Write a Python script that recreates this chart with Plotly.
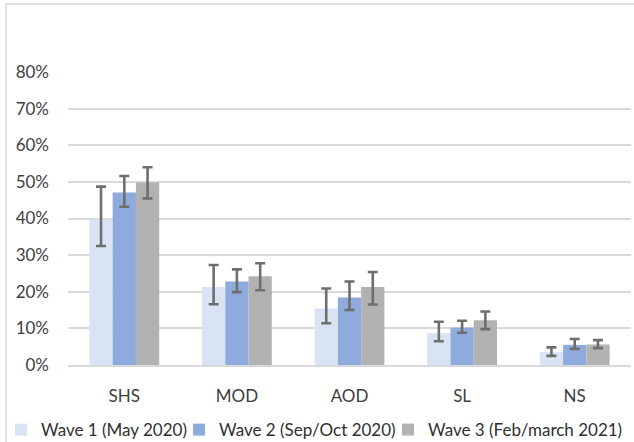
import plotly.graph_objects as go

categories = ["SHS", "MOD", "AOD", "SL", "NS"]
series_names = ["Wave 1 (May 2020)", "Wave 2 (Sep/Oct 2020)", "Wave 3 (Feb/march 2021)"]
colors = ["#dae3f3", "#8faadc", "#b2b2b2"]

wave1 = [0.398, 0.213, 0.154, 0.087, 0.035]
wave1_hi = [0.487, 0.273, 0.209, 0.118, 0.048]
wave1_lo = [0.325, 0.166, 0.114, 0.065, 0.025]

wave2 = [0.471, 0.228, 0.184, 0.102, 0.055]
wave2_hi = [0.516, 0.261, 0.228, 0.121, 0.071]
wave2_lo = [0.432, 0.199, 0.150, 0.088, 0.044]

wave3 = [0.498, 0.242, 0.213, 0.122, 0.056]
wave3_hi = [0.540, 0.278, 0.254, 0.146, 0.068]
wave3_lo = [0.455, 0.204, 0.165, 0.098, 0.046]

values = [wave1, wave2, wave3]
highs = [wave1_hi, wave2_hi, wave3_hi]
lows = [wave1_lo, wave2_lo, wave3_lo]
legend_ids = ["legend", "legend2", "legend3"]

fig = go.Figure()
for name, col, v, hi, lo, lg in zip(series_names, colors, values, highs, lows, legend_ids):
    fig.add_trace(go.Bar(
        x=categories, y=v, name=name, legend=lg,
        marker=dict(color=col, line=dict(width=0)),
        error_y=dict(type="data", symmetric=False,
                     array=[h - a for h, a in zip(hi, v)],
                     arrayminus=[a - l for a, l in zip(v, lo)],
                     color="#6e6e6e", thickness=2.6, width=5),
    ))

font_family = "Lato, 'Open Sans', sans-serif"
L, PW = 68, 563
leg_common = dict(orientation="h", xanchor="left", y=-0.222, yanchor="middle",
                  font=dict(size=17, color="#303030"), itemwidth=30,
                  bgcolor="rgba(0,0,0,0)")
fig.update_layout(
    width=634, height=442,
    margin=dict(l=L, r=3, t=72, b=77, autoexpand=False),
    paper_bgcolor="white", plot_bgcolor="white",
    barmode="group", bargap=0.38, bargroupgap=0,
    font=dict(family=font_family, size=17, color="#404040"),
    showlegend=True,
    legend=dict(x=(1 - L) / PW, **leg_common),
    legend2=dict(x=(179 - L) / PW, **leg_common),
    legend3=dict(x=(388 - L) / PW, **leg_common),
    xaxis=dict(showgrid=False, ticks="", ticklabelstandoff=15, automargin=False,
               showline=True, linecolor="#d9d9d9", linewidth=1.5),
    yaxis=dict(range=[0, 0.8], tickvals=[0, 0.1, 0.2, 0.3, 0.4, 0.5, 0.6, 0.7, 0.8],
               tickformat=".0%", showgrid=True, gridcolor="#d9d9d9", gridwidth=1.5,
               zeroline=False, ticks="", ticklabelstandoff=18, showline=False, automargin=False),
    shapes=[dict(type="rect", xref="paper", yref="paper",
                 x0=(6 - L) / PW, x1=1.5, y0=-0.6, y1=(365 - 4) / 293,
                 line=dict(color="#d9d9d9", width=1.5), fillcolor="rgba(0,0,0,0)", layer="below")],
)

fig.write_html(
    "out.html",
    config={"displayModeBar": False},
    post_script="document.body.style.margin='0';document.body.style.overflow='hidden';",
)
